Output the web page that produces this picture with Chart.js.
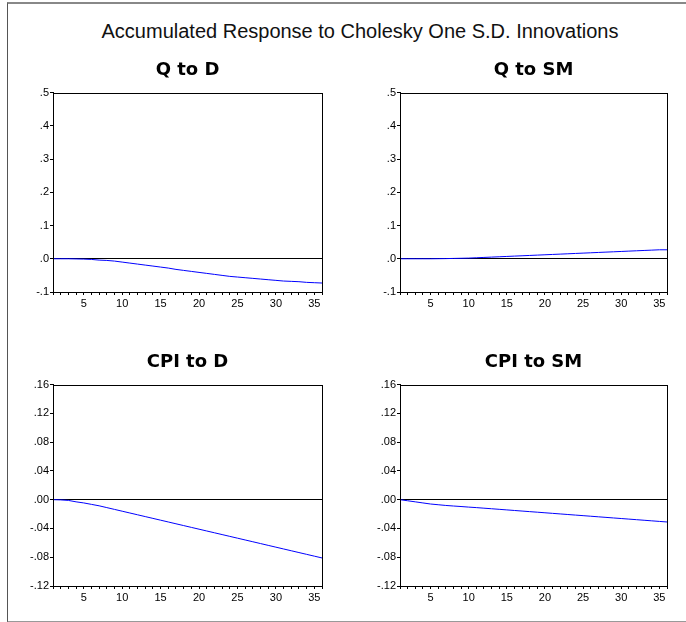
<!DOCTYPE html>
<html>
<head>
<meta charset="utf-8">
<script src="https://cdn.jsdelivr.net/npm/chart.js@4.4.1/dist/chart.umd.min.js"></script>
<style>
  html, body { margin: 0; padding: 0; background: #fff; overflow: hidden; }
  body { width: 686px; height: 622px; position: relative; }
  #frame { position: absolute; left: 7px; top: 2px; width: 690px; height: 617px;
           border-left: 1px solid #555; border-top: 2px solid #888; border-bottom: 2px solid #999; }
  #mainTitle { position: absolute; left: 0; top: 20px; width: 720px; text-align: center;
               font: 20px "Liberation Sans", Arial, sans-serif; color: #111; }
  canvas { position: absolute; }
</style>
</head>
<body>
<div id="frame"></div>
<div id="mainTitle">Accumulated Response to Cholesky One S.D. Innovations</div>
<canvas id="c1" style="left:8px;top:52px;width:322px;height:262px"></canvas>
<canvas id="c2" style="left:355px;top:52px;width:320px;height:262px"></canvas>
<canvas id="c3" style="left:8px;top:344px;width:322px;height:264px"></canvas>
<canvas id="c4" style="left:355px;top:344px;width:320px;height:264px"></canvas>
<script>
// horizon (periods)
var horizons = [1,2,3,4,5,6,7,8,9,10,11,12,13,14,15,16,17,18,19,20,21,22,23,24,25,26,27,28,29,30,31,32,33,34,35,36];

// accumulated responses
var qToD = [0,0,0,-0.0005,-0.001,-0.002,-0.004,-0.005,-0.007,-0.010,-0.013,-0.016,-0.019,-0.022,-0.025,-0.028,-0.032,-0.035,
            -0.038,-0.041,-0.044,-0.047,-0.050,-0.053,-0.055,-0.057,-0.059,-0.061,-0.063,-0.065,-0.067,-0.068,-0.069,-0.071,-0.072,-0.073];
var qToSM = [0,0,0,0,0,0.0002,0.0005,0.001,0.0015,0.002,0.003,0.004,0.005,0.006,0.007,0.008,0.009,0.010,
             0.011,0.012,0.013,0.014,0.015,0.016,0.017,0.018,0.019,0.020,0.021,0.022,0.023,0.024,0.025,0.026,0.027,0.027];
var cpiToD = [0,-0.0003,-0.001,-0.003,-0.0045,-0.0065,-0.0085,-0.011,-0.0135,-0.016,-0.0185,-0.021,-0.0235,-0.026,-0.0285,-0.031,-0.0335,-0.036,
              -0.0385,-0.041,-0.0435,-0.046,-0.0485,-0.051,-0.0535,-0.056,-0.0585,-0.061,-0.0635,-0.066,-0.0685,-0.071,-0.0735,-0.076,-0.0785,-0.081];
var cpiToSM = [0,-0.0015,-0.003,-0.0045,-0.006,-0.007,-0.008,-0.0088,-0.0095,-0.0103,-0.011,-0.0118,-0.0126,-0.0134,-0.0142,-0.015,-0.0158,-0.0166,
               -0.0174,-0.0182,-0.019,-0.0198,-0.0206,-0.0214,-0.0222,-0.023,-0.0238,-0.0246,-0.0254,-0.0262,-0.027,-0.0278,-0.0286,-0.0294,-0.0302,-0.031];

// y tick labels (bottom to top)
var qTickLabels = ['-.1', '.0', '.1', '.2', '.3', '.4', '.5'];
var cpiTickLabels = ['-.12', '-.08', '-.04', '.00', '.04', '.08', '.12', '.16'];

var boxPlugin = {
  id: 'box',
  afterDatasetsDraw: function (chart) {
    var a = chart.chartArea, ctx = chart.ctx;
    ctx.save();
    ctx.strokeStyle = '#000';
    ctx.lineWidth = 1;
    ctx.strokeRect(Math.round(a.left) + 0.5, Math.round(a.top) + 0.5,
                   Math.round(a.right - a.left), Math.round(a.bottom - a.top));
    ctx.restore();
  }
};

function makePanel(id, title, values, yMin, yMax, yStep, tickLabels) {
  var pts = horizons.map(function (h, i) { return {x: h, y: values[i]}; });
  return new Chart(document.getElementById(id), {
    type: 'line',
    data: { datasets: [{
      data: pts,
      borderColor: '#0000ff',
      borderWidth: 1,
      pointRadius: 0,
      tension: 0,
      fill: false
    }]},
    plugins: [boxPlugin],
    options: {
      responsive: false,
      animation: false,
      events: [],
      layout: { padding: { left: 0, right: 8, top: 0, bottom: 0 } },
      plugins: {
        legend: { display: false },
        tooltip: { enabled: false },
        title: {
          display: true,
          text: title,
          fullSize: false,
          color: '#000',
          font: { family: '"DejaVu Sans"', size: 18, weight: 'bold', lineHeight: 1.2 },
          padding: { top: 8, bottom: 11 }
        }
      },
      scales: {
        x: {
          type: 'linear',
          min: 1, max: 36,
          afterFit: function (s) { s.height = 22; },
          border: { color: '#000', width: 1 },
          grid: { drawOnChartArea: false, tickLength: 3, tickColor: '#000' },
          ticks: {
            stepSize: 1, autoSkip: false, maxRotation: 0, padding: 2,
            color: '#000',
            font: { family: '"Liberation Sans"', size: 11 },
            callback: function (v) { return v % 5 === 0 ? String(v) : ''; }
          }
        },
        y: {
          min: yMin, max: yMax,
          afterFit: function (s) { s.width = 45; },
          border: { color: '#000', width: 1 },
          grid: {
            drawOnChartArea: true, tickLength: 3, tickColor: '#000',
            color: function (c) { return c.tick && Math.abs(c.tick.value) < 1e-9 ? '#000' : 'rgba(0,0,0,0)'; }
          },
          ticks: {
            stepSize: yStep, padding: 1,
            color: '#000',
            font: { family: '"Liberation Sans"', size: 11 },
            callback: function (v, i) { return tickLabels[i]; }
          }
        }
      }
    }
  });
}

makePanel('c1', 'Q to D', qToD, -0.1, 0.5, 0.1, qTickLabels);
makePanel('c2', 'Q to SM', qToSM, -0.1, 0.5, 0.1, qTickLabels);
makePanel('c3', 'CPI to D', cpiToD, -0.12, 0.16, 0.04, cpiTickLabels);
makePanel('c4', 'CPI to SM', cpiToSM, -0.12, 0.16, 0.04, cpiTickLabels);
</script>
</body>
</html>
